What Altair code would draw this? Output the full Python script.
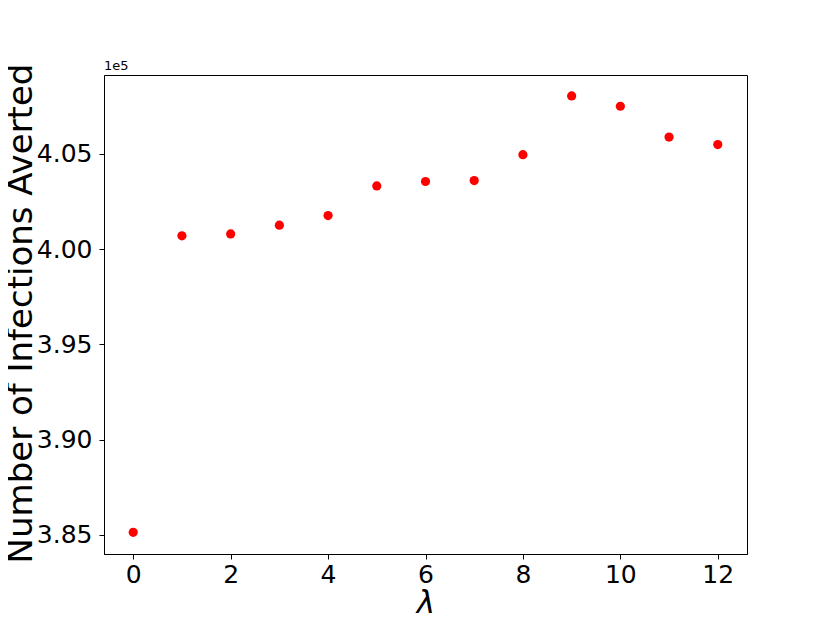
import altair as alt
import pandas as pd

lam = [0, 1, 2, 3, 4, 5, 6, 7, 8, 9, 10, 11, 12]
averted = [385140, 400700, 400800, 401260, 401760, 403320, 403550, 403600,
           404960, 408040, 407500, 405880, 405490]
y_ticks = [3.85, 3.90, 3.95, 4.00, 4.05]
x_ticks = [0, 2, 4, 6, 8, 10, 12]

df = pd.DataFrame({"lam": lam, "averted": averted})
FONT = "DejaVu Sans"

points = alt.Chart(df).transform_calculate(
    scaled="datum.averted / 100000"
).mark_circle(color="#ff0000", opacity=1, size=85).encode(
    x=alt.X("lam:Q", scale=alt.Scale(domain=[-0.6, 12.6], nice=False, zero=False),
            axis=alt.Axis(values=x_ticks, title="λ", grid=False, tickSize=5,
                          tickColor="black", domainColor="black", labelFontSize=25,
                          labelFont=FONT, labelColor="black", labelPadding=3,
                          titleFont=FONT, titleFontSize=31, titleFontStyle="italic",
                          titleFontWeight="normal", titleColor="black",
                          titleY=58, titleBaseline="alphabetic")),
    y=alt.Y("scaled:Q", scale=alt.Scale(domain=[3.8400, 4.0914], nice=False, zero=False),
            axis=alt.Axis(values=y_ticks, format=".2f", title="Number of Infections Averted",
                          grid=False, tickSize=5, tickColor="black", domainColor="black",
                          labelFontSize=25, labelFont=FONT, labelColor="black",
                          labelPadding=7, titleFont=FONT, titleFontSize=34,
                          titleFontWeight="normal", titleColor="black",
                          titleX=-73, titleY=238, titleAngle=-90,
                          titleAlign="center", titleBaseline="alphabetic")),
)

offset = alt.Chart(pd.DataFrame({"t": ["1e5"]})).mark_text(
    align="left", baseline="alphabetic", fontSize=13, font=FONT, color="black"
).encode(x=alt.value(0), y=alt.value(-5), text="t:N")

chart = alt.layer(points, offset).properties(
    width=643, height=479,
    autosize=alt.AutoSizeParams(type="none"),
    padding={"left": 96, "top": 67, "right": 70, "bottom": 60},
).configure_view(stroke="black", strokeWidth=1)

chart.save("out.html", embed_options={"renderer": "svg", "actions": False})
